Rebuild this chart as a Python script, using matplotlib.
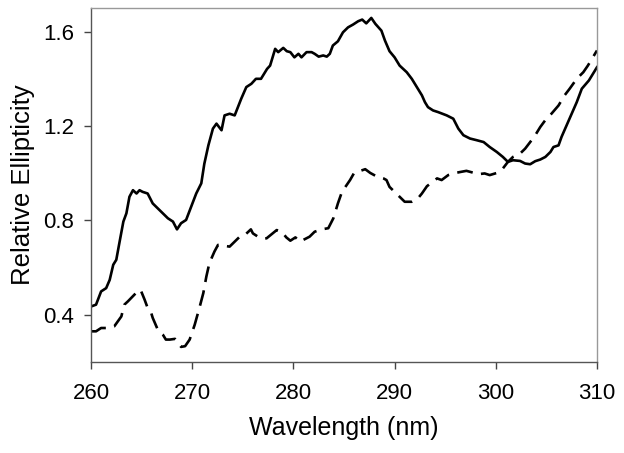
import matplotlib
matplotlib.use("Agg")
import matplotlib.pyplot as plt

plt.rcParams['font.family'] = ['Liberation Sans', 'DejaVu Sans']

# solid trace (wavelength nm, relative ellipticity)
solid_x = [260.0, 260.5, 261.0, 261.5, 261.85, 262.2, 262.5, 262.8, 263.2, 263.5,
           263.8, 264.15, 264.5, 264.8, 265.1, 265.6, 266.1, 266.6, 267.1, 267.6,
           268.1, 268.5, 268.9, 269.4, 269.9, 270.4, 270.9, 271.2, 271.6, 272.05,
           272.4, 272.9, 273.2, 273.7, 274.2, 274.85, 275.35, 275.85, 276.3, 276.8,
           277.4, 277.7, 278.2, 278.5, 279.0, 279.35, 279.7, 280.1, 280.5, 280.8,
           281.3, 281.8, 282.1, 282.5, 282.95, 283.3, 283.6, 283.9, 284.4, 284.9,
           285.4, 285.9, 286.4, 286.8, 287.2, 287.7, 288.1, 288.7, 289.05, 289.5,
           290.0, 290.5, 291.2, 291.7, 292.2, 292.7, 293.0, 293.3, 293.8, 294.3,
           295.15, 295.8, 296.3, 296.8, 297.45, 298.1, 298.8, 299.4, 300.1, 300.7,
           301.2, 301.7, 302.4, 302.9, 303.4, 303.9, 304.4, 304.9, 305.4, 305.7,
           306.2, 306.5, 307.0, 307.5, 308.0, 308.5, 309.2, 310.0]
solid_y = [0.435, 0.443, 0.499, 0.513, 0.548, 0.612, 0.633, 0.703, 0.795, 0.830,
           0.900, 0.928, 0.914, 0.928, 0.921, 0.914, 0.872, 0.851, 0.830, 0.809,
           0.795, 0.762, 0.788, 0.802, 0.858, 0.914, 0.957, 1.040, 1.118, 1.189,
           1.210, 1.182, 1.245, 1.252, 1.245, 1.316, 1.365, 1.379, 1.400, 1.400,
           1.442, 1.456, 1.527, 1.513, 1.531, 1.517, 1.513, 1.491, 1.506, 1.491,
           1.513, 1.513, 1.506, 1.494, 1.499, 1.494, 1.506, 1.541, 1.559, 1.597,
           1.618, 1.630, 1.644, 1.651, 1.635, 1.658, 1.633, 1.604, 1.562, 1.517,
           1.491, 1.456, 1.428, 1.400, 1.365, 1.330, 1.301, 1.280, 1.266, 1.259,
           1.245, 1.231, 1.189, 1.161, 1.147, 1.140, 1.132, 1.111, 1.090, 1.069,
           1.048, 1.055, 1.052, 1.041, 1.038, 1.051, 1.058, 1.069, 1.090, 1.111,
           1.118, 1.154, 1.203, 1.252, 1.301, 1.358, 1.393, 1.449]

# dashed trace
dash_x = [260.0, 260.5, 261.0, 261.5, 262.3, 263.0, 263.3, 263.65, 264.6, 264.9,
          265.3, 265.6, 265.95, 266.1, 266.6, 267.1, 267.4, 267.8, 268.3, 268.6,
          268.9, 269.3, 269.75, 270.25, 270.75, 271.1, 271.4, 271.7, 272.2, 272.55,
          272.9, 273.2, 273.7, 274.2, 274.7, 275.2, 275.8, 276.0, 276.5, 277.0,
          277.35, 278.35, 278.85, 279.3, 279.7, 280.2, 280.65, 281.6, 282.1, 282.8,
          283.45, 283.95, 284.4, 284.8, 285.25, 285.6, 286.0, 287.1, 287.6, 288.2,
          288.9, 289.2, 289.5, 290.5, 291.0, 291.7, 292.3, 292.7, 293.2, 294.2,
          294.65, 295.3, 296.0, 296.6, 297.1, 298.3, 298.9, 299.4, 300.1, 300.7,
          301.2, 301.7, 302.4, 302.9, 303.4, 303.9, 304.4, 305.0, 305.5, 306.2,
          306.8, 307.3, 308.0, 308.65, 309.1, 310.0]
dash_y = [0.330, 0.330, 0.344, 0.344, 0.351, 0.393, 0.443, 0.457, 0.499, 0.506,
          0.464, 0.429, 0.408, 0.387, 0.337, 0.316, 0.295, 0.295, 0.298, 0.281,
          0.264, 0.267, 0.295, 0.358, 0.435, 0.492, 0.562, 0.619, 0.668, 0.696,
          0.696, 0.692, 0.689, 0.710, 0.731, 0.738, 0.762, 0.745, 0.731, 0.724,
          0.724, 0.759, 0.752, 0.728, 0.714, 0.728, 0.710, 0.731, 0.752, 0.762,
          0.767, 0.809, 0.872, 0.921, 0.949, 0.971, 1.001, 1.017, 1.001, 0.987,
          0.978, 0.971, 0.942, 0.900, 0.879, 0.879, 0.893, 0.914, 0.945, 0.978,
          0.971, 0.992, 1.001, 1.006, 1.010, 0.996, 0.999, 0.992, 1.001, 1.020,
          1.048, 1.069, 1.083, 1.104, 1.132, 1.161, 1.196, 1.231, 1.252, 1.287,
          1.330, 1.358, 1.400, 1.428, 1.456, 1.520]

xticks = [260, 270, 280, 290, 300, 310]
yticks = [0.4, 0.8, 1.2, 1.6]

fig = plt.figure(figsize=(6.24, 4.53), dpi=100)
ax = fig.add_axes([0.1458, 0.2009, 0.8109, 0.7814])

ax.plot(solid_x, solid_y, color='black', linewidth=1.9, solid_joinstyle='round')
ax.plot(dash_x, dash_y, color='black', linewidth=1.9, linestyle=(0, (6, 3.2)))

ax.set_xlim(260, 310)
ax.set_ylim(0.2, 1.7)
ax.set_xticks(xticks)
ax.set_yticks(yticks)
ax.set_yticklabels([f"{v:.1f}" for v in yticks])

ax.tick_params(direction='out', length=5, width=1, colors='#444444',
               labelcolor='black', labelsize=16)
ax.tick_params(axis='x', pad=10)
ax.tick_params(axis='y', pad=7)

for side in ['left', 'bottom']:
    ax.spines[side].set_color('#555555')
    ax.spines[side].set_linewidth(1.0)
for side in ['top', 'right']:
    ax.spines[side].set_color('#999999')
    ax.spines[side].set_linewidth(1.0)

ax.set_xlabel('Wavelength (nm)', fontsize=18, labelpad=9)
ax.set_ylabel('Relative Ellipticity', fontsize=18.5, labelpad=6)

fig.savefig('out.png', dpi=100)
